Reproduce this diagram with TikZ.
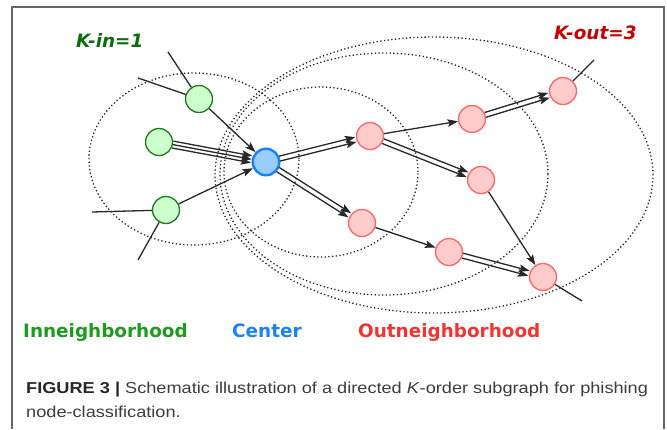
\documentclass[tikz,border=0pt]{standalone}
\usepackage{fontspec}
\setmainfont{Liberation Sans}
\newfontfamily\capfont[FakeStretch=1.15]{Liberation Sans}
\newfontfamily\lblfont{DejaVu Sans}
\usepackage{tikz}
\usetikzlibrary{arrows.meta, positioning, calc}

\definecolor{ingreen}{RGB}{30,120,30}
\definecolor{infill}{RGB}{204,255,204}
\definecolor{cblue}{RGB}{20,130,255}
\definecolor{cfill}{RGB}{153,204,255}
\definecolor{outred}{RGB}{255,100,100}
\definecolor{outfill}{RGB}{255,204,204}
\definecolor{edgegray}{RGB}{40,40,40}
\definecolor{kingreen}{RGB}{10,110,10}
\definecolor{koutred}{RGB}{200,0,0}
\definecolor{lblgreen}{RGB}{30,155,30}
\definecolor{lblblue}{RGB}{25,130,245}
\definecolor{lblred}{RGB}{245,50,50}
\definecolor{captext}{RGB}{60,60,60}

\newcommand{\paredge}[3]{\draw[arrow, shorten <=14pt, shorten >=14.5pt] ($(#1)!#3!90:(#2)$) -- ($(#2)!#3!-90:(#1)$);}

\begin{document}
\begin{tikzpicture}[
    x=1pt, y=-1pt,
    innode/.style={circle, draw=ingreen, fill=infill, line width=1.3pt, minimum size=27pt, inner sep=0pt},
    centernode/.style={circle, draw=cblue, fill=cfill, line width=2.4pt, minimum size=26.5pt, inner sep=0pt},
    outnode/.style={circle, draw=outred, fill=outfill, line width=1.3pt, minimum size=27pt, inner sep=0pt},
    ring/.style={draw=black!85, line width=1.3pt, dash pattern=on 1.3pt off 2.4pt},
    edge/.style={draw=edgegray, line width=1.3pt},
    arrow/.style={edge, -{Stealth[length=10.5pt, width=7.5pt, inset=2pt]}},
    klabel/.style={anchor=base west, inner sep=0pt, font=\lblfont\bfseries\itshape\fontsize{18.4}{22}\selectfont},
    hoodlabel/.style={anchor=base west, inner sep=0pt, font=\lblfont\bfseries\fontsize{18.4}{22}\selectfont},
    caption/.style={anchor=base west, inner sep=0pt, text=captext, font=\capfont\fontsize{15.8}{24}\selectfont},
    frame/.style={draw=black!60, line width=1.2pt}
]
\useasboundingbox (0,0) rectangle (667,429);
\draw[frame] (12,429) |- (664,7) -- (664,429);

\draw[ring] (194,159) ellipse [x radius=105pt, y radius=86pt];
\draw[ring] (321,172) ellipse [x radius=97pt, y radius=85pt];
\draw[ring] (384,174) ellipse [x radius=164pt, y radius=121pt];
\draw[ring] (434,175) ellipse [x radius=219pt, y radius=138pt];

\node[innode] (g1) at (199,99) {};
\node[innode] (g2) at (159,142) {};
\node[innode] (g3) at (166,210) {};
\node[centernode] (c) at (266,162) {};
\node[outnode] (r1) at (370,136) {};
\node[outnode] (r2) at (472,119) {};
\node[outnode] (r3) at (563,91) {};
\node[outnode] (r4) at (481,180) {};
\node[outnode] (r5) at (362,223) {};
\node[outnode] (r6) at (449,252) {};
\node[outnode] (r7) at (543,277) {};

\coordinate (g1a) at (168,52);
\coordinate (g1b) at (138,78);
\coordinate (g3a) at (92,212);
\coordinate (g3b) at (138,260);
\coordinate (r3a) at (594,60);
\coordinate (r7a) at (582,301);

\draw[edge] (g1a) -- (g1);
\draw[edge] (g1b) -- (g1);
\draw[edge] (g3a) -- (g3);
\draw[edge] (g3b) -- (g3);
\draw[edge] (r3) -- (r3a);
\draw[edge] (r7) -- (r7a);

\draw[arrow] (g1) -- (c);
\paredge{g2}{c}{-3.5pt}
\paredge{g2}{c}{0pt}
\paredge{g2}{c}{3.5pt}
\draw[arrow] (g3) -- (c);
\paredge{c}{r1}{-2.5pt}
\paredge{c}{r1}{2.5pt}
\paredge{c}{r5}{-2.5pt}
\paredge{c}{r5}{2.5pt}
\draw[arrow] (r1) -- (r2);
\paredge{r1}{r4}{-2.5pt}
\paredge{r1}{r4}{2.5pt}
\paredge{r2}{r3}{-2.5pt}
\paredge{r2}{r3}{2.5pt}
\draw[arrow] (r4) -- (r7);
\draw[arrow] (r5) -- (r6);
\paredge{r6}{r7}{-2.5pt}
\paredge{r6}{r7}{2.5pt}

\node[klabel, text=kingreen] (kin) at (76,47) {K-in=1};
\node[klabel, text=koutred] (kout) at (554,39) {K-out=3};

\node[hoodlabel, text=lblgreen] (inhood) at (23,337) {Inneighborhood};
\node[hoodlabel, text=lblblue] (center) at (232,337) {Center};
\node[hoodlabel, text=lblred] (outhood) at (358,337) {Outneighborhood};

\node[caption] (cap1) at (26,393) {\textbf{\color{black!85}FIGURE 3 |} Schematic illustration of a directed \textit{K}-order subgraph for phishing};
\node[caption] (cap2) at (26,417) {node-classification.};

\end{tikzpicture}
\end{document}
